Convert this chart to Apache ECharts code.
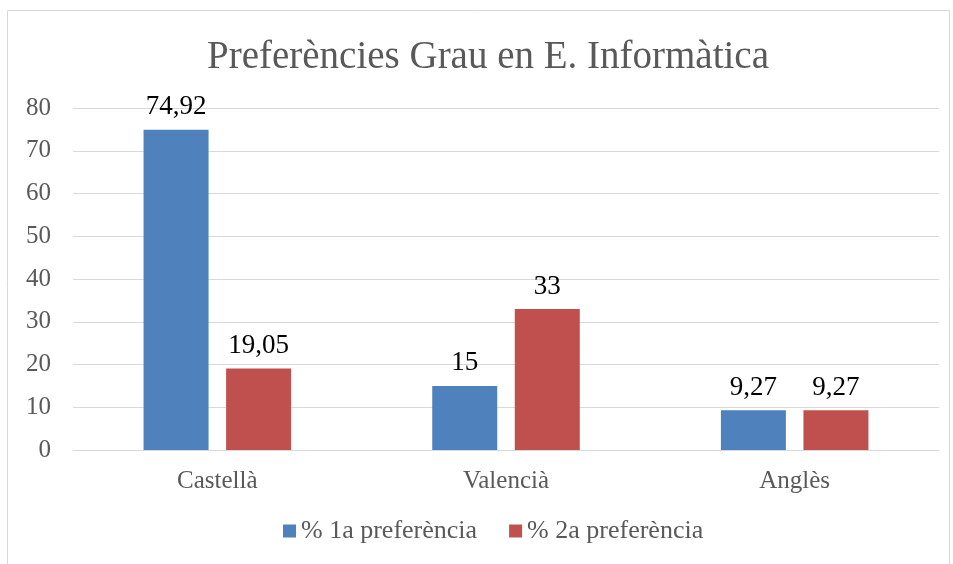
<!DOCTYPE html>
<html><head><meta charset="utf-8">
<script src="https://cdn.jsdelivr.net/npm/echarts@6/dist/echarts.min.js"></script>
<style>html,body{margin:0;padding:0;background:#fff}#c{width:953px;height:564px}</style>
</head><body><div id="c"></div>
<script>
const categories = ['Castellà', 'Valencià', 'Anglès'];
const series1Name = '% 1a preferència';
const series2Name = '% 2a preferència';
const series1 = [74.92, 15, 9.27];
const series2 = [19.05, 33, 9.27];
const titleText = 'Preferències Grau en E. Informàtica';

const FONT = 'Liberation Serif';
const chart = echarts.init(document.getElementById('c'), null, {renderer: 'canvas'});
const fmt = p => String(p.value).replace('.', ',');
chart.setOption({
  animation: false,
  textStyle: {fontFamily: FONT},
  graphic: [{type: 'rect', shape: {x: 7.5, y: 10.5, width: 942, height: 560}, style: {fill: 'none', stroke: '#d9d9d9', lineWidth: 1}}],
  title: {text: titleText, left: 202, top: 33, textStyle: {fontFamily: FONT, fontSize: 39, fontWeight: 'normal', color: '#595959'}},
  legend: {bottom: 15, left: 278, itemWidth: 13, itemHeight: 13, itemGap: 32, icon: 'rect',
    textStyle: {fontFamily: FONT, fontSize: 26, color: '#595959'}},
  grid: {left: 73, right: 14, top: 108, bottom: 114},
  xAxis: {type: 'category', data: categories,
    axisLine: {lineStyle: {color: '#d9d9d9', width: 1}}, axisTick: {show: false},
    axisLabel: {fontFamily: FONT, fontSize: 25, color: '#595959', margin: 19}},
  yAxis: {type: 'value', min: 0, max: 80, interval: 10,
    axisLine: {show: false}, axisTick: {show: false},
    splitLine: {lineStyle: {color: '#d9d9d9', width: 1}},
    axisLabel: {fontFamily: FONT, fontSize: 25, color: '#595959', margin: 22}},
  series: [
    {name: series1Name, type: 'bar', data: series1, barWidth: 65, barGap: '27%', itemStyle: {color: '#4F81BD'},
      label: {show: true, position: 'top', distance: 9, formatter: fmt, fontFamily: FONT, fontSize: 27, color: '#000'}},
    {name: series2Name, type: 'bar', data: series2, barWidth: 65, itemStyle: {color: '#C0504D'},
      label: {show: true, position: 'top', distance: 9, formatter: fmt, fontFamily: FONT, fontSize: 27, color: '#000'}}
  ]
});
</script></body></html>
